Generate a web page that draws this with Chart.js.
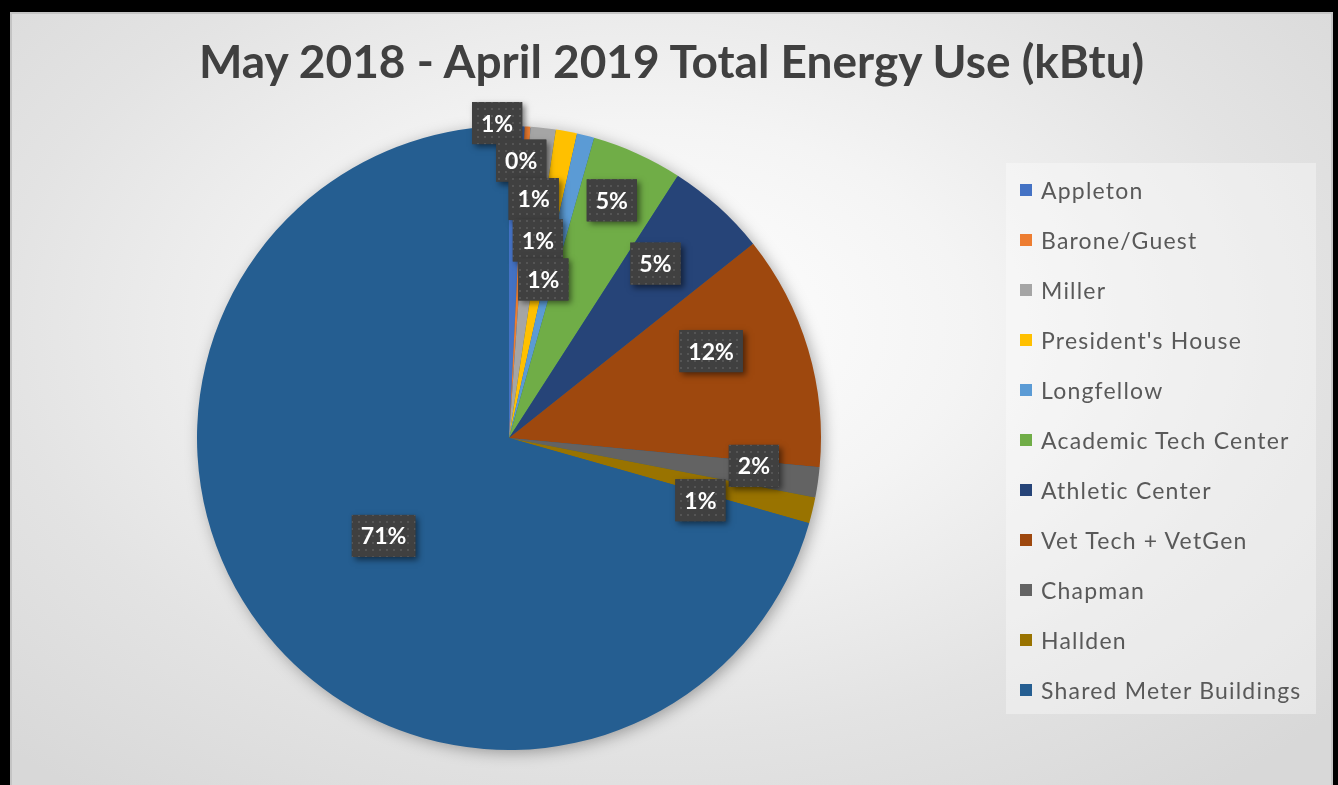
<!DOCTYPE html>
<html lang="en">
<head>
    <meta charset="UTF-8">
    <title>May 2018 - April 2019 Total Energy Use (kBtu)</title>
    <script src="https://cdn.jsdelivr.net/npm/chart.js"></script>
    <style>
        html, body { margin: 0; padding: 0; background: #000; overflow: hidden; }
        #frame {
            position: absolute; left: 10px; top: 12px; width: 1323px; height: 785px;
            box-sizing: border-box; border: 2px solid #c4c4c4;
            background: radial-gradient(ellipse 70% 75% at 48% 40%, #ffffff 0%, #f4f4f4 35%, #e3e3e3 70%, #d8d8d8 100%);
        }
        #chartBox { position: absolute; left: 0; top: 0; width: 1319px; height: 766px; }
        #title {
            position: absolute; left: 0; top: 21px; width: 1319px; height: 52px; line-height: 52px;
            text-align: center; white-space: nowrap;
            font-family: Lato, "Noto Sans", sans-serif; font-weight: bold; font-size: 46px; color: #404040;
        }
        #legend {
            position: absolute; left: 994px; top: 149px; width: 310px; height: 551px;
            background: rgba(255, 255, 255, 0.35);
            font-family: Lato, "Noto Sans", sans-serif; font-size: 23px; color: #595959;
            letter-spacing: 1.2px;
        }
        #legend div { position: absolute; left: 35px; height: 30px; line-height: 30px; white-space: nowrap; }
        #legend span { position: absolute; left: -21px; top: 9px; width: 12px; height: 12px; }
    </style>
    <script>
        var categories = ['Appleton', 'Barone/Guest', 'Miller', "President's House", 'Longfellow',
            'Academic Tech Center', 'Athletic Center', 'Vet Tech + VetGen', 'Chapman', 'Hallden',
            'Shared Meter Buildings'];
        // share of total kBtu, percent
        var shareOfTotal = [0.8, 0.3, 1.3, 1.1, 0.9, 4.7, 5.2, 12.2, 1.55, 1.35, 70.6];
        var sliceColors = ['#4472C4', '#ED7D31', '#A5A5A5', '#FFC000', '#5B9BD5', '#70AD47',
            '#264478', '#9E480E', '#636363', '#997300', '#255E91'];
        // label spot per slice: [fraction of radius, angle shift in degrees]
        var labelPlacement = [[1.01, -3.6], [0.89, -0.9], [0.77, -0.4], [0.64, -2.3], [0.52, -2],
            [0.83, -0.9], [0.73, -2.1], [0.705, -6.7], [0.79, -1.7], [0.645, 4.6], [0.51, -0.9]];

        function makeDots(ctx) {
            var c = document.createElement('canvas');
            c.width = 7; c.height = 7;
            var p = c.getContext('2d');
            p.fillStyle = '#404040';
            p.fillRect(0, 0, 7, 7);
            p.fillStyle = '#555555';
            p.fillRect(3, 3, 2, 2);
            return ctx.createPattern(c, 'repeat');
        }

        var pieShadow = {
            id: 'pieShadow',
            beforeDatasetsDraw: function(chart) {
                var arc = chart.getDatasetMeta(0).data[0];
                if (!arc) return;
                var ctx = chart.ctx;
                ctx.save();
                ctx.shadowColor = 'rgba(0,0,0,0.35)';
                ctx.shadowBlur = 16;
                ctx.shadowOffsetX = 3;
                ctx.shadowOffsetY = 3;
                ctx.fillStyle = '#255E91';
                ctx.beginPath();
                ctx.arc(arc.x, arc.y, arc.outerRadius - 1, 0, Math.PI * 2);
                ctx.fill();
                ctx.restore();
            }
        };

        var sliceLabels = {
            id: 'sliceLabels',
            afterDatasetsDraw: function(chart) {
                var ctx = chart.ctx;
                var values = chart.data.datasets[0].data;
                var total = values.reduce(function(a, b) { return a + b; }, 0);
                var dots = makeDots(ctx);
                chart.getDatasetMeta(0).data.forEach(function(arc, i) {
                    var pr = arc.getProps(['x', 'y', 'startAngle', 'endAngle', 'outerRadius'], true);
                    var place = labelPlacement[i];
                    var mid = (pr.startAngle + pr.endAngle) / 2 + place[1] * Math.PI / 180;
                    var r = place[0] * pr.outerRadius;
                    var px = pr.x + Math.cos(mid) * r;
                    var py = pr.y + Math.sin(mid) * r;
                    var text = Math.round(values[i] / total * 100) + '%';

                    ctx.save();
                    ctx.font = 'bold 23px Lato, "Noto Sans", sans-serif';
                    var w = ctx.measureText(text).width + 18;
                    var h = 42;
                    ctx.shadowColor = 'rgba(0,0,0,0.5)';
                    ctx.shadowBlur = 6;
                    ctx.shadowOffsetX = 3;
                    ctx.shadowOffsetY = 3;
                    ctx.fillStyle = '#404040';
                    ctx.fillRect(px - w / 2, py - h / 2, w, h);
                    ctx.shadowColor = 'transparent';
                    ctx.fillStyle = dots;
                    ctx.fillRect(px - w / 2, py - h / 2, w, h);
                    ctx.fillStyle = '#ffffff';
                    ctx.textAlign = 'center';
                    ctx.textBaseline = 'middle';
                    ctx.fillText(text, px, py + 1);
                    ctx.restore();
                });
            }
        };

        function buildLegend(chart) {
            var box = document.getElementById('legend');
            var colors = chart.data.datasets[0].backgroundColor;
            chart.data.labels.forEach(function(name, i) {
                var row = document.createElement('div');
                row.style.top = (12 + i * 50) + 'px';
                var mark = document.createElement('span');
                mark.style.background = colors[i];
                row.appendChild(mark);
                row.appendChild(document.createTextNode(name));
                box.appendChild(row);
            });
        }

        window.onload = function() {
            var ctx = document.getElementById('grafico').getContext('2d');
            var chart = new Chart(ctx, {
                type: 'pie',
                data: {
                    labels: categories,
                    datasets: [{
                        data: shareOfTotal,
                        backgroundColor: sliceColors,
                        borderWidth: 0
                    }]
                },
                options: {
                    responsive: true,
                    maintainAspectRatio: false,
                    animation: false,
                    layout: { padding: { left: 185, right: 510, top: 112, bottom: 30 } },
                    plugins: {
                        legend: { display: false },
                        tooltip: { enabled: false },
                        title: { display: false }
                    }
                },
                plugins: [pieShadow, sliceLabels]
            });
            buildLegend(chart);
        };
    </script>
</head>
<body>
    <div id="frame">
        <div id="chartBox"><canvas id="grafico"></canvas></div>
        <div id="title">May 2018 - April 2019 Total Energy Use (kBtu)</div>
        <div id="legend"></div>
    </div>
</body>
</html>
